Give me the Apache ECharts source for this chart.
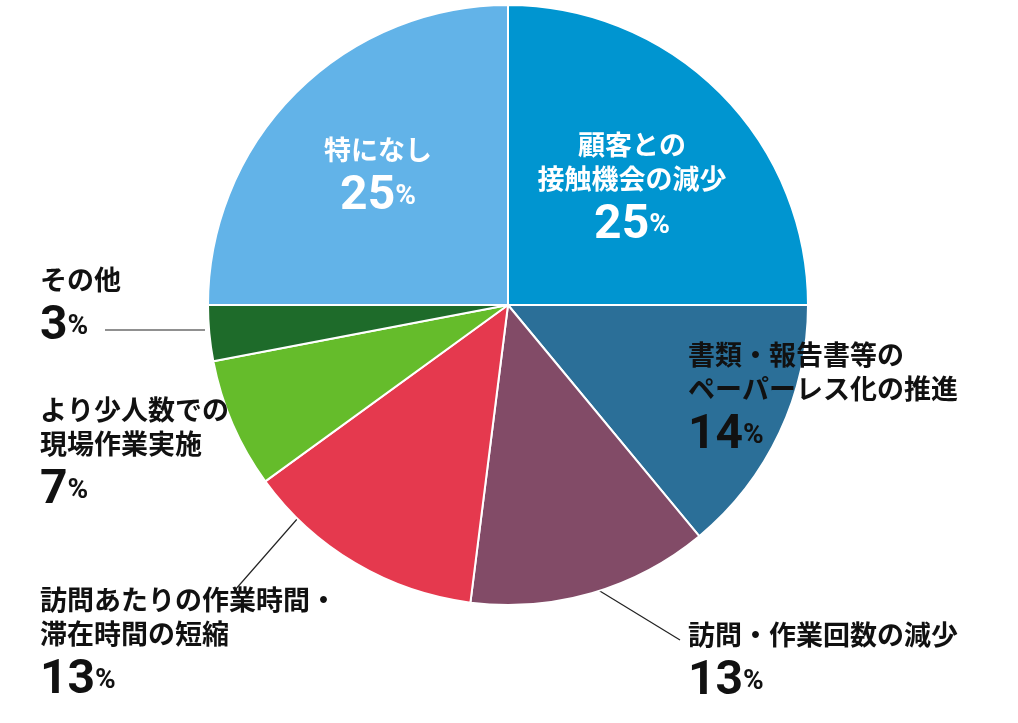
<!DOCTYPE html>
<html><head><meta charset="utf-8">
<script src="https://cdn.jsdelivr.net/npm/echarts@6/dist/echarts.min.js"></script>
<style>html,body{margin:0;background:#fff}#main{width:1018px;height:723px}</style>
</head><body><div id="main"></div>
<script>
var names = ['顧客との\n接触機会の減少', '書類・報告書等の\nペーパーレス化の推進', '訪問・作業回数の減少',
  '訪問あたりの作業時間・\n滞在時間の短縮', 'より少人数での\n現場作業実施', 'その他', '特になし'];
var values = [25, 14, 13, 13, 7, 3, 25];
var colors = ['#0095d0', '#2b6f98', '#824b67', '#e5394e', '#65bc2b', '#1e6b2a', '#62b3e8'];
var textColors = ['#fff', '#111', '#111', '#111', '#111', '#111', '#fff'];

// label anchor per slice: x, y, align, line points
var spots = [
  {x: 632, y: 192, align: 'center', v: 'middle'},
  {x: 688, y: 338, align: 'left', v: 'top'},
  {x: 688, y: 618, align: 'left', v: 'top', line: [[590, 585], [680, 640]]},
  {x: 40, y: 583, align: 'left', v: 'top', line: [[305, 510], [235, 590]]},
  {x: 40, y: 393, align: 'left', v: 'top'},
  {x: 40, y: 263, align: 'left', v: 'top', line: [[205, 330], [105, 330]]},
  {x: 378, y: 180, align: 'center', v: 'middle'}
];

var chart = echarts.init(document.getElementById('main'));
chart.setOption({
  animation: false,
  series: [{
    type: 'pie',
    center: [508, 305],
    radius: 300,
    startAngle: 90,
    clockwise: true,
    itemStyle: {borderColor: '#fff', borderWidth: 2},
    labelLine: {show: true, lineStyle: {color: '#222', width: 1.2}},
    data: values.map(function (v, i) {
      return {
        name: names[i], value: v,
        itemStyle: {color: colors[i]},
        labelLine: {show: !!spots[i].line},
        label: {
          show: true,
          overflow: 'none',
          width: 400,
          formatter: '{n|' + names[i].replace('\n', '}\n{n|') + '}\n{v|' + v + '}{p|%}',
          rich: {
            n: {fontSize: 27, fontWeight: 'bold', lineHeight: 34, color: textColors[i], align: spots[i].align,
              fontFamily: 'Noto Sans CJK JP'},
            v: {fontSize: 48, fontWeight: 'bold', lineHeight: 60, color: textColors[i], align: spots[i].align,
              fontFamily: 'Liberation Sans Narrow, Roboto'},
            p: {fontSize: 28, fontWeight: 'bold', lineHeight: 60, color: textColors[i], align: spots[i].align,
              fontFamily: 'Liberation Sans Narrow, Roboto'}
          }
        }
      };
    }),
    labelLayout: function (params) {
      var s = spots[params.dataIndex];
      var r = {x: s.x, y: s.y, align: s.align, verticalAlign: s.v};
      if (s.line) r.labelLinePoints = [s.line[0], s.line[1], s.line[1]];
      return r;
    }
  }]
});
</script></body></html>
